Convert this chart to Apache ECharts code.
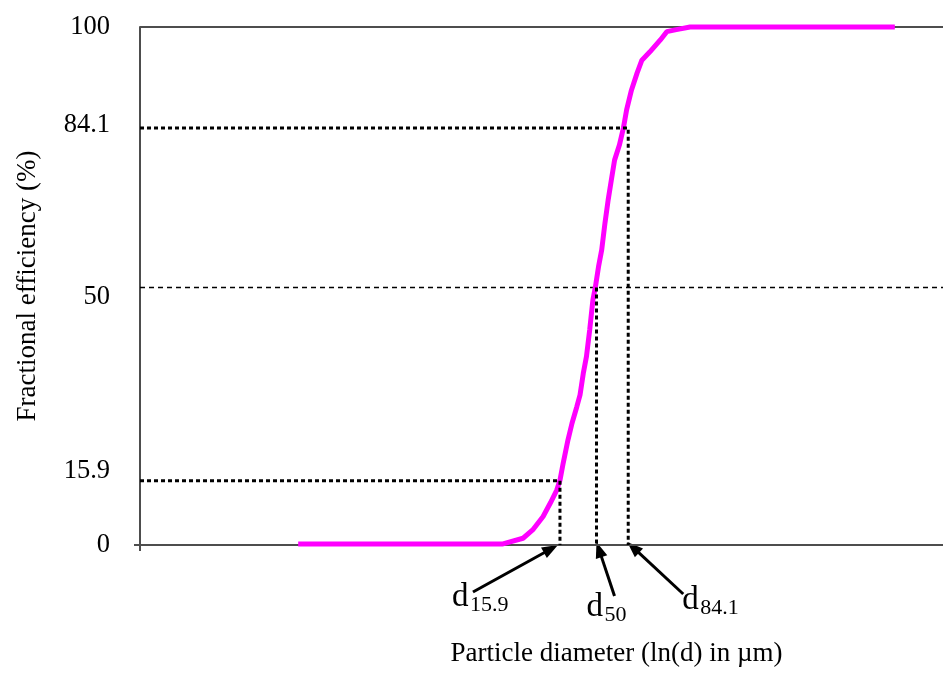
<!DOCTYPE html>
<html>
<head>
<meta charset="utf-8">
<script src="https://cdn.jsdelivr.net/npm/echarts@6/dist/echarts.min.js"></script>
<style>
  html, body { margin: 0; padding: 0; background: #fff; }
  #chart { width: 943px; height: 673px; }
</style>
</head>
<body>
<div id="chart"></div>
<script>
// ln(d) in arbitrary units (no tick labels on this axis), efficiency in %
const curveX = [19.7, 45.2, 47.7, 48.9, 50.2, 51.1, 51.9, 52.3, 52.7, 53.3, 53.8, 54.4, 54.8, 55.2, 55.6, 56.0, 56.4, 56.7,
                57.1, 57.5, 57.9, 58.3, 58.7, 59.1, 59.7, 60.2, 60.6, 61.2, 61.9, 62.5, 63.5, 64.8, 65.6, 66.8, 68.5, 94.0];
const curveY = [0.2, 0.2, 1.3, 2.9, 5.5, 8.1, 10.6, 12.5, 15.8, 20.3, 23.5, 26.7, 29.0, 33.1, 36.4, 41.5, 47.3, 49.7,
                53.7, 57.0, 62.1, 66.6, 70.5, 74.3, 77.2, 80.5, 84.0, 87.8, 91.1, 93.6, 95.2, 97.5, 99.1, 99.5, 100, 100];

// y tick labels as printed, and where the picture prints them
const yTickText = ['0', '15.9', '50', '84.1', '100'];
const yTickAt = [0, 14.3, 47.9, 81.1, 100];

// d15.9, d50, d84.1 guides: position on ln(d) axis and drawn level
const dNames = ['15.9', '50', '84.1'];
const dPos = [52.3, 56.85, 60.8];
const dLevel = [12.4, 49.7, 80.5];

const serif = "'Times New Roman', 'Liberation Serif', serif";
const axisGrey = '#4d4d4d';

const chart = echarts.init(document.getElementById('chart'));

const guideSeries = dPos.map((x, i) => {
  const pts = i === 1 ? [[x, dLevel[i]], [x, 0]] : [[0, dLevel[i]], [x, dLevel[i]], [x, 0]];
  return {
    type: 'line', data: pts, symbol: 'none', silent: true, z: 5, clip: false,
    lineStyle: { color: '#000', width: 3, type: [4, 3] }
  };
});

chart.setOption({
  animation: false,
  grid: { left: 140, right: 0, top: 27, bottom: 128 },
  xAxis: {
    type: 'value', min: 0, max: 100,
    name: 'Particle diameter (ln(d) in µm)',
    nameLocation: 'middle', nameGap: 95,
    nameTextStyle: { fontFamily: serif, fontSize: 27, color: '#000', padding: [0, 0, 0, 150] },
    axisLine: { lineStyle: { color: axisGrey, width: 2 } },
    axisTick: { show: true, customValues: [0], length: 6, lineStyle: { color: axisGrey, width: 2 } },
    axisLabel: { show: false },
    splitLine: { show: false }
  },
  yAxis: {
    type: 'value', min: 0, max: 100,
    name: 'Fractional efficiency (%)',
    nameLocation: 'middle', nameGap: 99, nameRotate: 90,
    nameTextStyle: { fontFamily: serif, fontSize: 27, color: '#000' },
    axisLine: { show: true, lineStyle: { color: axisGrey, width: 2 } },
    axisTick: { show: true, customValues: [0], length: 6, lineStyle: { color: axisGrey, width: 2 } },
    axisLabel: {
      customValues: yTickAt,
      formatter: v => yTickText[yTickAt.indexOf(v)],
      fontFamily: serif, fontSize: 26.5, color: '#000', margin: 30
    },
    splitLine: { show: false }
  },
  series: [
    {
      type: 'line', data: [[0, 100], [100, 100]], symbol: 'none', silent: true, z: 1, clip: false,
      lineStyle: { color: axisGrey, width: 2 }
    },
    {
      type: 'line', data: [[0, dLevel[1]], [100, dLevel[1]]], symbol: 'none', silent: true, z: 2,
      lineStyle: { color: '#000', width: 1.5, type: [5, 4] }
    },
    {
      type: 'line', data: curveX.map((x, i) => [x, curveY[i]]), symbol: 'none', z: 3, clip: false,
      lineStyle: { color: '#ff00ff', width: 5 }
    },
    ...guideSeries
  ]
});

// arrows from the d labels to the guide feet, offsets in pixels
const tailOff = [[-87, 47], [18, 51], [55, 49]];
const tipOff = [[-2, 0], [0, -3], [-1, -3]];
const labelOff = [[-108, 64], [-10, 74], [54, 67]];
const graphics = [];
dPos.forEach((x, i) => {
  const foot = chart.convertToPixel({ gridIndex: 0 }, [x, 0]);
  const tip = [foot[0] + tipOff[i][0], foot[1] + tipOff[i][1]];
  const tail = [foot[0] + tailOff[i][0], foot[1] + tailOff[i][1]];
  const dx = tip[0] - tail[0], dy = tip[1] - tail[1];
  const len = Math.sqrt(dx * dx + dy * dy);
  const ux = dx / len, uy = dy / len, nx = -uy, ny = ux;
  const hl = 16, hw = 6;
  graphics.push({
    type: 'line', silent: true,
    shape: { x1: tail[0], y1: tail[1], x2: tip[0] - ux * hl * 0.8, y2: tip[1] - uy * hl * 0.8 },
    style: { stroke: '#000', lineWidth: 3 }
  });
  graphics.push({
    type: 'polygon', silent: true,
    shape: { points: [tip, [tip[0] - ux * hl + nx * hw, tip[1] - uy * hl + ny * hw], [tip[0] - ux * hl - nx * hw, tip[1] - uy * hl - ny * hw]] },
    style: { fill: '#000' }
  });
  const bx = foot[0] + labelOff[i][0], by = foot[1] + labelOff[i][1];
  graphics.push({
    type: 'text', silent: true, x: bx, y: by - 0.34 * 33,
    style: { text: 'd', font: '33px ' + serif, fill: '#000', textAlign: 'left', textVerticalAlign: 'middle' }
  });
  graphics.push({
    type: 'text', silent: true, x: bx + 18, y: by + 4 - 0.34 * 22,
    style: { text: dNames[i], font: '22px ' + serif, fill: '#000', textAlign: 'left', textVerticalAlign: 'middle' }
  });
});
chart.setOption({ graphic: graphics });
</script>
</body>
</html>
